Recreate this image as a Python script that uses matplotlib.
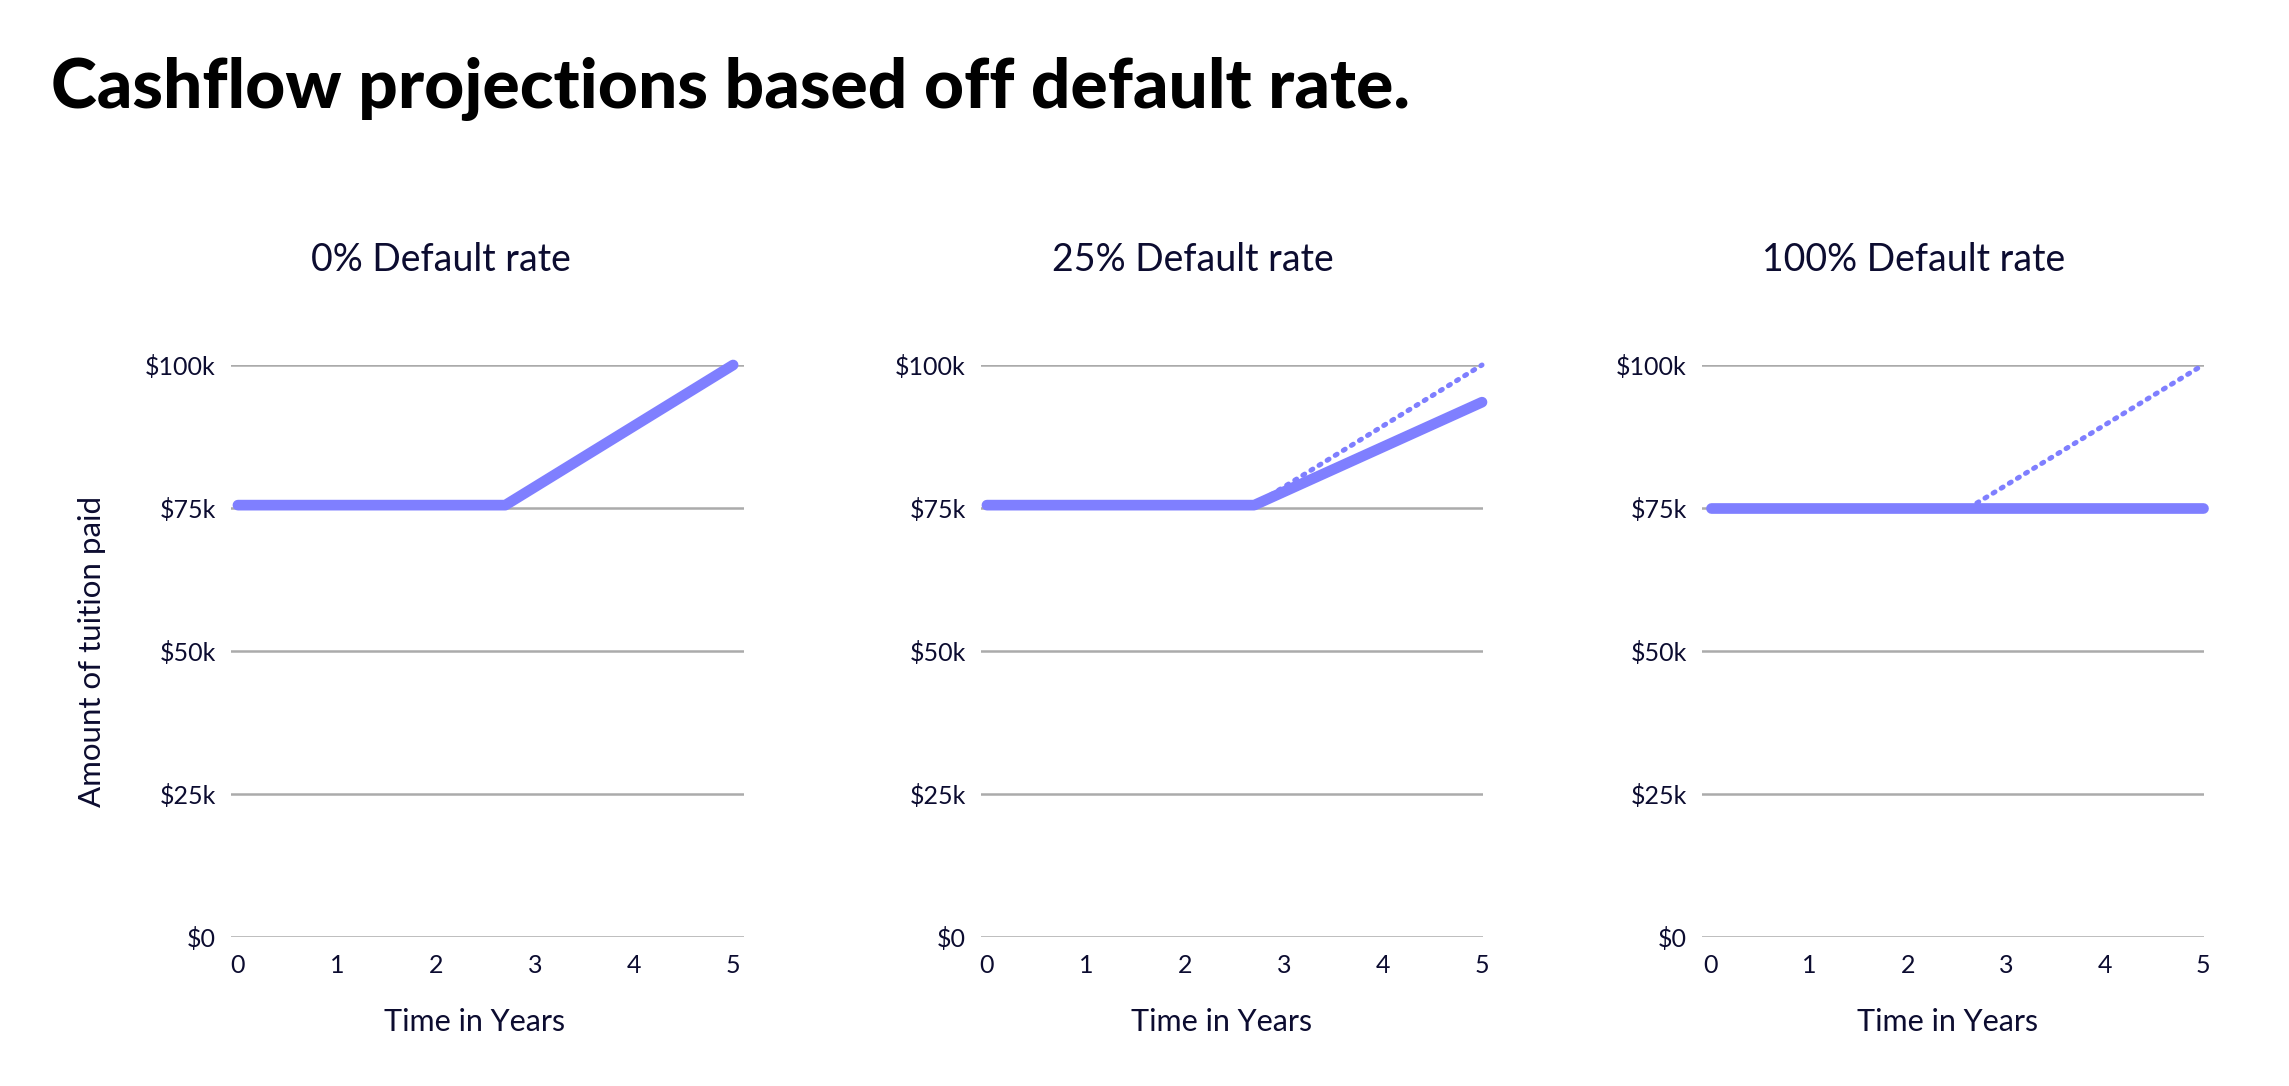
import matplotlib
matplotlib.use("Agg")
import matplotlib.pyplot as plt

# ---- data ----
panel_titles = ["0% Default rate", "25% Default rate", "100% Default rate"]
x_ticks = [0, 1, 2, 3, 4, 5]
y_ticks = [0, 25000, 50000, 75000, 100000]
y_tick_labels = ["$0", "$25k", "$50k", "$75k", "$100k"]

# solid (actual) series per panel
solid_x = [[0, 2.7, 5], [0, 2.7, 5], [0, 5]]
solid_y = [[75500, 75500, 100000], [75500, 75500, 93500], [75000, 75000]]
# dotted (projected no-default) series per panel (None = not drawn)
dotted_x = [None, [2.7, 5], [2.62, 5]]
dotted_y = [None, [75500, 100000], [75000, 100000]]

TEXT = "#0c0c30"
LINE = "#7f7fff"
GRID = "#ababab"

plt.rcParams["font.family"] = ["Lato", "DejaVu Sans"]

W, H = 2289, 1086
fig = plt.figure(figsize=(W / 100, H / 100), dpi=100)

fig.text(51 / W, 1 - 89 / H, "Cashflow projections based off default rate.",
         fontsize=50, fontweight="black", color="black", ha="left", va="center")

# per-panel layout (pixels) and x-limits
lefts = [231, 981, 1702]
widths = [513, 502, 502]
xlims = [(-0.07, 5.11), (-0.06, 5.01), (-0.09, 5.01)]
xlabel_x = [0.474, 0.48, 0.49]
bottom = 937
top = 365
title_cx = [441, 1193, 1914]

for i in range(3):
    ax = fig.add_axes([lefts[i] / W, (H - bottom) / H, widths[i] / W, (bottom - top) / H])
    ax.set_xlim(*xlims[i])
    ax.set_ylim(0, 100000)
    for s in ax.spines.values():
        s.set_visible(False)
    ax.set_yticks(y_ticks)
    ax.set_yticklabels(y_tick_labels)
    ax.set_xticks(x_ticks)
    ax.set_xticklabels([str(t) for t in x_ticks])
    ax.tick_params(axis="both", length=0, labelsize=18, labelcolor=TEXT)
    ax.tick_params(axis="y", pad=11)
    ax.tick_params(axis="x", pad=12)
    ax.grid(axis="y", color=GRID, linewidth=1.8)
    ax.set_axisbelow(True)

    if dotted_x[i] is not None:
        ax.plot(dotted_x[i], dotted_y[i], color=LINE, linewidth=3.6,
                linestyle=(0, (0.45, 1.45)), dash_capstyle="round",
                clip_on=False, zorder=3)
    ax.plot(solid_x[i], solid_y[i], color=LINE, linewidth=7.7,
            solid_capstyle="round", solid_joinstyle="round",
            clip_on=False, zorder=4)

    ax.set_xlabel("Time in Years", fontsize=22, color=TEXT, va="center")
    ax.xaxis.set_label_coords(xlabel_x[i], -0.149)
    if i == 0:
        ax.set_ylabel("Amount of tuition paid", fontsize=22.5, color=TEXT, labelpad=28)

    fig.text(title_cx[i] / W, 1 - 260 / H, panel_titles[i], fontsize=27,
             color=TEXT, ha="center", va="center")

fig.savefig("out.png", dpi=100, facecolor="white")
